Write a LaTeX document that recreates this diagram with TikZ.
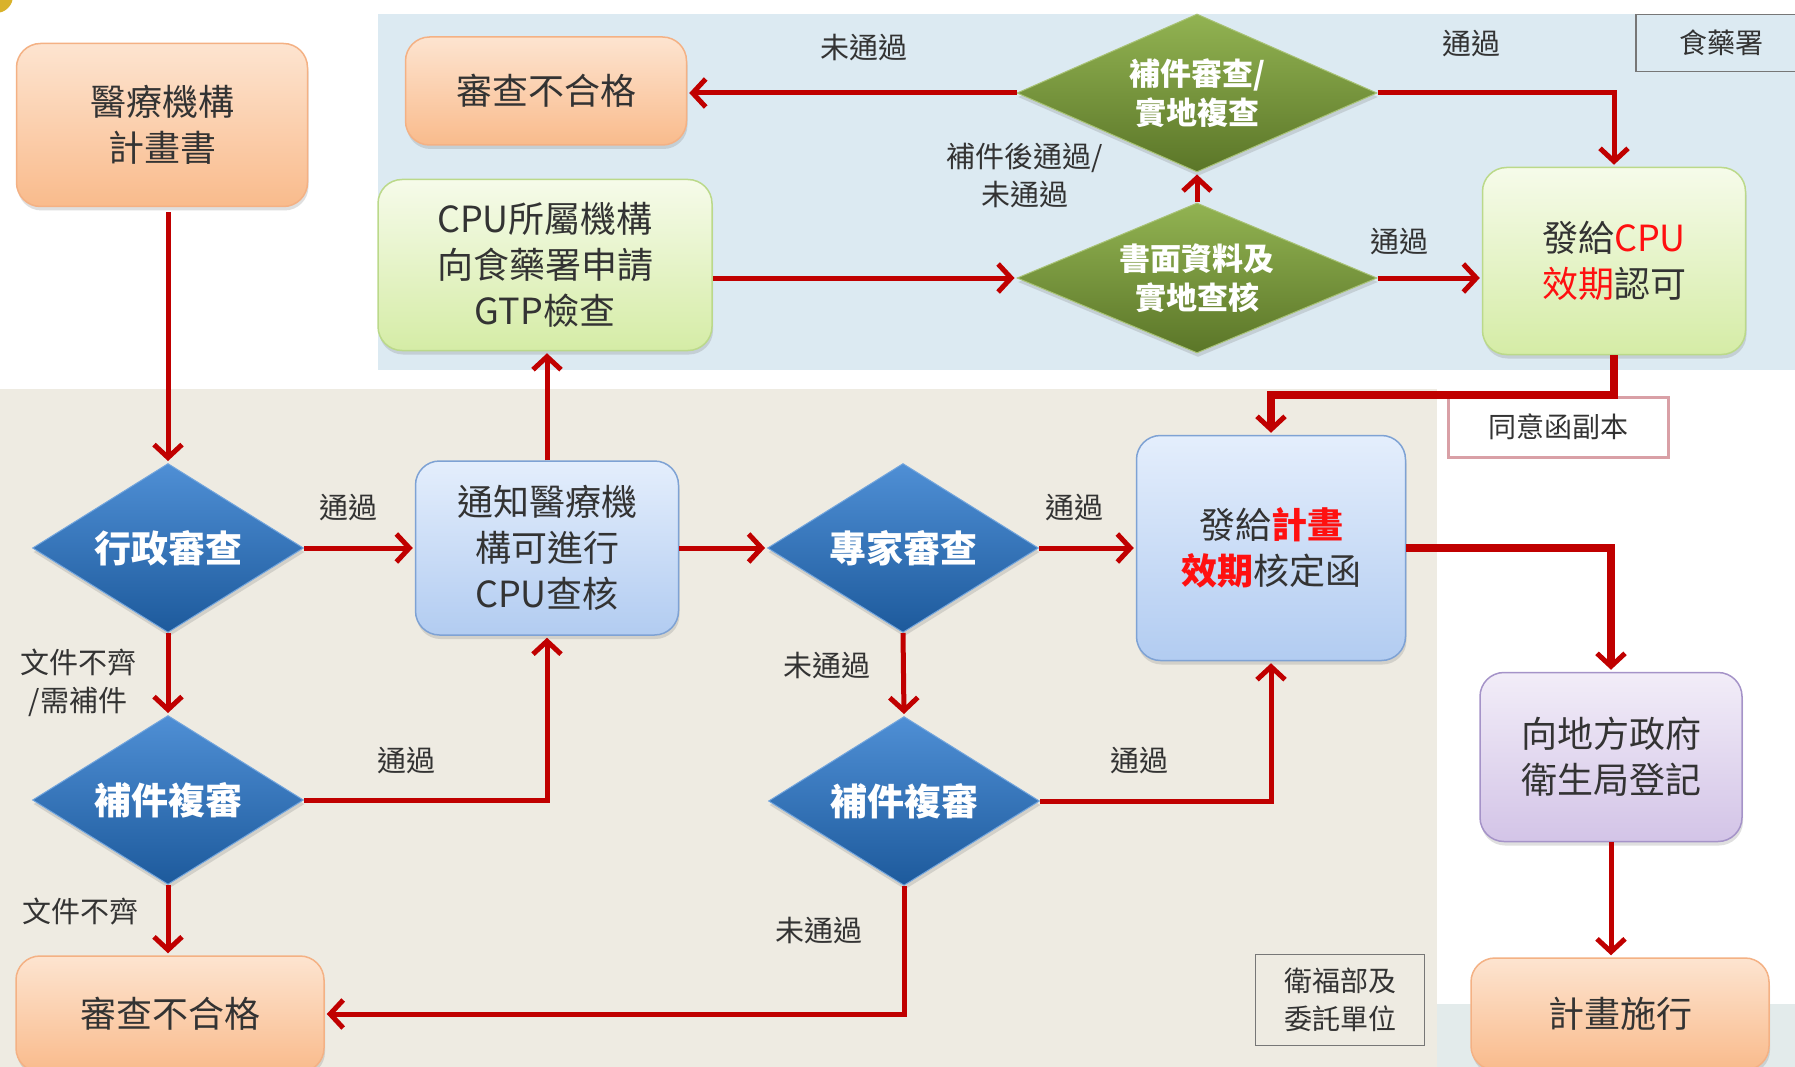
\documentclass[tikz,border=0pt]{standalone}
\usepackage{fontspec}
\setmainfont{Noto Sans CJK TC}
\usetikzlibrary{shapes.geometric,arrows.meta,shadows,calc}
\definecolor{redl}{HTML}{C00000}
\definecolor{txt}{HTML}{333333}
\definecolor{bluebg}{HTML}{DCEAF2}
\definecolor{beigebg}{HTML}{EEEBE2}
\definecolor{stripbg}{HTML}{E3EBEB}
\definecolor{orT}{HTML}{FDE4D0}
\definecolor{orB}{HTML}{F9BB8C}
\definecolor{orD}{HTML}{F4B184}
\definecolor{grT}{HTML}{F6FBEA}
\definecolor{grB}{HTML}{D5ECA6}
\definecolor{grD}{HTML}{BBD98A}
\definecolor{lbT}{HTML}{E4EEFC}
\definecolor{lbB}{HTML}{B2CCF1}
\definecolor{lbD}{HTML}{7EA2D4}
\definecolor{puT}{HTML}{F2EDF8}
\definecolor{puB}{HTML}{D3C4E7}
\definecolor{puD}{HTML}{A593C8}
\definecolor{bdT}{HTML}{4F8FD5}
\definecolor{bdB}{HTML}{1D5A9C}
\definecolor{odT}{HTML}{92B352}
\definecolor{odB}{HTML}{5B7628}
\definecolor{hl}{HTML}{FF1010}
\definecolor{goldF}{HTML}{D9B22A}
\definecolor{tagD}{HTML}{777777}
\definecolor{pinkD}{HTML}{D9A0A6}
\tikzset{
  base/.style={align=center, text=txt, font=\fontsize{36}{46}\selectfont, inner sep=4pt},
  rbox/.style={base, rectangle, rounded corners=24pt, line width=1.5pt,
    drop shadow={shadow xshift=1pt, shadow yshift=-4pt, opacity=0.25}},
  obox/.style={rbox, draw=orD, top color=orT, bottom color=orB},
  gbox/.style={rbox, draw=grD, top color=grT, bottom color=grB},
  lbox/.style={rbox, draw=lbD, top color=lbT, bottom color=lbB},
  pbox/.style={rbox, draw=puD, top color=puT, bottom color=puB},
  dia/.style={diamond, inner sep=0pt, align=center, text=white,
    font=\bfseries\fontsize{37}{46}\selectfont,
    drop shadow={shadow xshift=1pt, shadow yshift=-4pt, opacity=0.25}},
  bdia/.style={dia, shape aspect=1.6, top color=bdT, bottom color=bdB, draw=bdT!80!white, line width=1pt},
  gdia/.style={dia, shape aspect=2.3, top color=odT, bottom color=odB, draw=odT!80!white, line width=1pt,
    font=\bfseries\fontsize{31}{39}\selectfont},
  lbl/.style={text=txt, font=\fontsize{29}{38}\selectfont, inner sep=0pt, align=center},
  tag/.style={align=center, text=txt, font=\fontsize{28}{38}\selectfont, line width=1.5pt},
  arr/.style={draw=redl, line width=5pt, -{Straight Barb[length=13pt,width=28pt]}, shorten >=2pt},
  arrthick/.style={draw=redl, line width=8pt, -{Straight Barb[length=13pt,width=28pt,line width=5pt]}, shorten >=2pt},
}
\begin{document}
\begin{tikzpicture}[x=1pt,y=-1pt]
\useasboundingbox (0,0) rectangle (1795,1067);
% backgrounds
\fill[white] (0,0) rectangle (1795,1067);
\fill[bluebg] (378,14) rectangle (1795,370);
\fill[beigebg] (0,389) rectangle (1437,1067);
\fill[stripbg] (1437,1004) rectangle (1795,1067);
\fill[goldF] (-4,-4) circle (17pt);

% region tags
\node[tag, draw=tagD, fill=bluebg, minimum width=170pt, minimum height=57pt] (fda) at (1721,43) {食藥署};
\node[tag, draw=pinkD, line width=3pt, fill=white, minimum width=220pt, minimum height=60pt] (copy) at (1558,427) {同意函副本};
\node[tag, draw=tagD, fill=beigebg, minimum width=169pt, minimum height=91pt] (moh) at (1340,1000) {衛福部及\\委託單位};

% boxes
\node[obox, minimum width=291pt, minimum height=163pt] (plan) at (162,125) {醫療機構\\計畫書};
\node[obox, minimum width=281pt, minimum height=108pt] (rej1) at (546,91) {審查不合格};
\node[gbox, minimum width=334pt, minimum height=171pt] (cpu) at (545,265) {CPU所屬機構\\向食藥署申請\\GTP檢查};
\node[gbox, minimum width=263pt, minimum height=187pt] (cpuok) at (1614,261) {發給\textcolor{hl}{CPU}\\\textcolor{hl}{效期}認可};
\node[lbox, minimum width=263pt, minimum height=174pt] (notify) at (547,548) {通知醫療機\\構可進行\\CPU查核};
\node[lbox, minimum width=269pt, minimum height=225pt] (plancert) at (1271,548) {發給\textcolor{hl}{\bfseries 計畫}\\\textcolor{hl}{\bfseries 效期}核定函};
\node[pbox, minimum width=262pt, minimum height=169pt] (reg) at (1611,757) {向地方政府\\衛生局登記};
\node[obox, minimum width=308pt, minimum height=116pt] (rej2) at (170,1014) {審查不合格};
\node[obox, minimum width=298pt, minimum height=112pt] (exec) at (1620,1014) {計畫施行};

% diamonds
\node[gdia, minimum width=360pt, minimum height=158pt] (sup) at (1197,93) {補件審查/\\實地複查};
\node[gdia, minimum width=360pt, minimum height=150pt] (ins) at (1197,278) {書面資料及\\實地查核};
\node[bdia, minimum width=271pt, minimum height=169pt] (dA) at (168,548) {行政審查};
\node[bdia, minimum width=271pt, minimum height=169pt] (dB) at (168,800) {補件複審};
\node[bdia, minimum width=271pt, minimum height=169pt] (expert) at (903,548) {專家審查};
\node[bdia, minimum width=271pt, minimum height=169pt] (dM) at (904,801) {補件複審};

% connectors
\draw[arr, shorten <=5pt] (dA.north |- plan.south) -- (dA.north);
\draw[arr] (dA.east) -- (notify.west);
\draw[arr] (dA.south) -- (dB.north);
\draw[arr] (dB.east) -| (notify.south);
\draw[arr] (dB.south) -- (dB.south |- rej2.north);
\draw[arr] (notify.north) -- (notify.north |- cpu.south);
\draw[arr] (notify.east) -- (expert.west);
\draw[arr] (cpu.east |- ins.west) -- (ins.west);
\draw[arr] (ins.north) -- (sup.south);
\draw[arr] (sup.west) -- (sup.west -| rej1.east);
\draw[arr] (sup.east) -| (cpuok.north);
\draw[arr] (ins.east) -- (ins.east -| cpuok.west);
\coordinate (m1) at ($(cpuok.south)+(0,40)$);
\draw[arrthick] (cpuok.south) -- (m1) -| (plancert.north);
\draw[arr] (expert.east) -- (plancert.west);
\draw[arr] (expert.south) -- (dM.north);
\draw[arr] (dM.east) -| (plancert.south);
\draw[arr] (dM.south) |- (rej2.east);
\draw[arrthick] (plancert.east) -| (reg.north);
\draw[arr] (reg.south) -- (reg.south |- exec.north);

% labels
\node[lbl] (l1) at (348,508) {通過};
\node[lbl] (l2) at (78,683) {文件不齊\\/需補件};
\node[lbl] (l3) at (406,761) {通過};
\node[lbl] (l4) at (80,912) {文件不齊};
\node[lbl] (l5) at (1025,176) {補件後通過/\\未通過};
\node[lbl] (l6) at (864,48) {未通過};
\node[lbl] (l7) at (1471,44) {通過};
\node[lbl] (l8) at (1399,242) {通過};
\node[lbl] (l9) at (1074,508) {通過};
\node[lbl] (l10) at (827,666) {未通過};
\node[lbl] (l11) at (1139,761) {通過};
\node[lbl] (l12) at (819,930) {未通過};
\end{tikzpicture}
\end{document}
